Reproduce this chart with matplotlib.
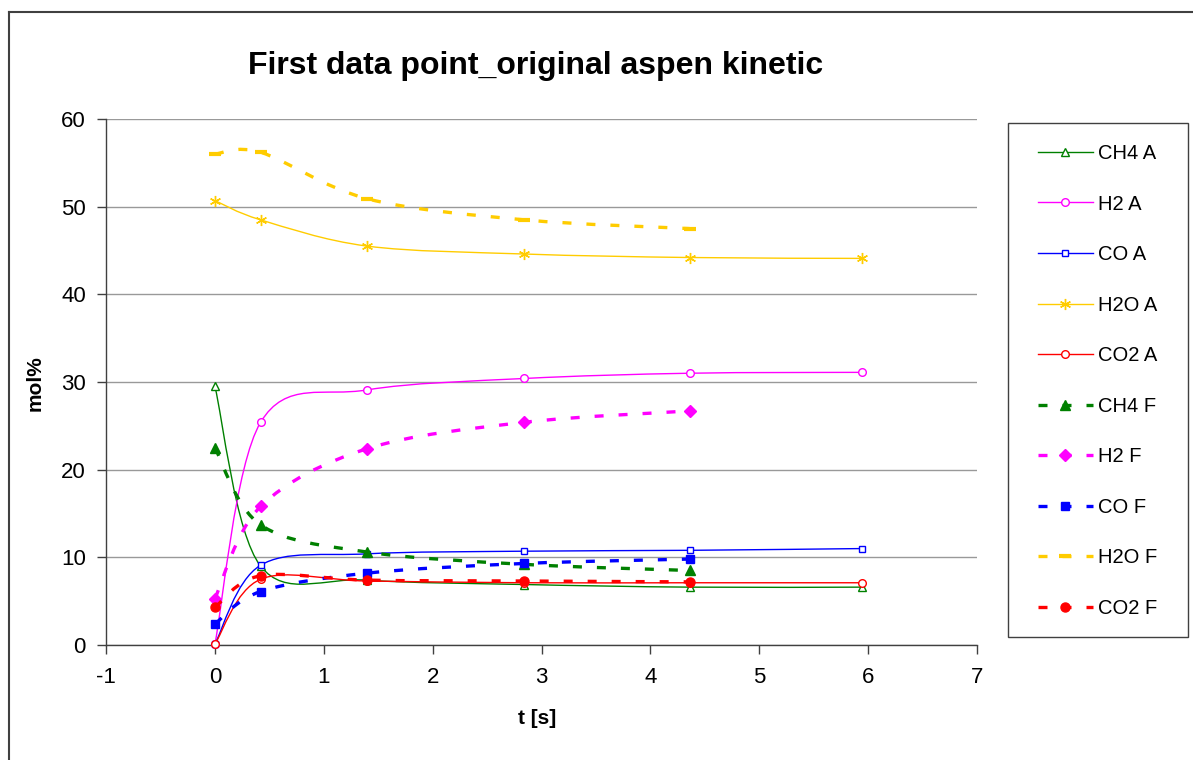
import numpy as np
import matplotlib
matplotlib.use("Agg")
import matplotlib.pyplot as plt
from matplotlib.path import Path
from matplotlib.patches import PathPatch, Rectangle
from matplotlib.lines import Line2D

plt.rcParams['font.family'] = ['Liberation Sans', 'DejaVu Sans']
plt.rcParams['axes.unicode_minus'] = False

# data
t_a = [0, 0.42, 1.4, 2.84, 4.36, 5.94]
t_f = [0, 0.42, 1.4, 2.84, 4.36]

ch4_a = [29.5, 9.0, 7.4, 6.9, 6.6, 6.6]
h2_a = [0.1, 25.4, 29.1, 30.4, 31.0, 31.1]
co_a = [0.1, 9.1, 10.4, 10.7, 10.8, 11.0]
h2o_a = [50.7, 48.5, 45.5, 44.6, 44.2, 44.1]
co2_a = [0.1, 7.5, 7.3, 7.1, 7.1, 7.1]

ch4_f = [22.5, 13.7, 10.6, 9.2, 8.5]
h2_f = [5.3, 15.8, 22.4, 25.4, 26.7]
co_f = [2.4, 6.1, 8.2, 9.3, 9.8]
h2o_f = [56.0, 56.2, 50.9, 48.5, 47.5]
co2_f = [4.3, 7.9, 7.4, 7.3, 7.2]

labels = ['CH4 A', 'H2 A', 'CO A', 'H2O A', 'CO2 A',
          'CH4 F', 'H2 F', 'CO F', 'H2O F', 'CO2 F']
colors = ['#008000', '#FF00FF', '#0000FF', '#FFCC00', '#FF0000'] * 2


def smooth_path(x, y):
    # excel style smoothed line: cubic bezier through the points
    p = np.column_stack([x, y]).astype(float)
    n = len(p)
    verts = [p[0]]
    codes = [Path.MOVETO]
    for i in range(n - 1):
        p0 = p[max(i - 1, 0)]
        p3 = p[min(i + 2, n - 1)]
        c1 = p[i] + (p[i + 1] - p0) / 6
        c2 = p[i + 1] - (p3 - p[i]) / 6
        verts += [c1, c2, p[i + 1]]
        codes += [Path.CURVE4] * 3
    return Path(verts, codes)


dash = (0, (2.7, 4.5))
styles = [
    dict(marker='^', ms=6, mfc='white', mew=1, lw=1, ls='-'),
    dict(marker='o', ms=5.5, mfc='white', mew=1, lw=1, ls='-'),
    dict(marker='s', ms=5, mfc='white', mew=1, lw=1, ls='-'),
    dict(marker=(6, 2, 0), ms=8, mfc='none', mew=1, lw=1, ls='-'),
    dict(marker='o', ms=5.5, mfc='white', mew=1, lw=1, ls='-'),
    dict(marker='^', ms=7, mfc=None, mew=1, lw=2.4, ls=dash),
    dict(marker='D', ms=6, mfc=None, mew=1, lw=2.4, ls=dash),
    dict(marker='s', ms=6, mfc=None, mew=1, lw=2.4, ls=dash),
    dict(marker='_', ms=9, mfc=None, mew=3, lw=2.4, ls=dash),
    dict(marker='o', ms=6.5, mfc=None, mew=1, lw=2.4, ls=dash),
]
series = [(t_a, ch4_a), (t_a, h2_a), (t_a, co_a), (t_a, h2o_a), (t_a, co2_a),
          (t_f, ch4_f), (t_f, h2_f), (t_f, co_f), (t_f, h2o_f), (t_f, co2_f)]

fig = plt.figure(figsize=(11.93, 7.6), dpi=100)
ax = fig.add_axes([106 / 1193, 1 - 645 / 760, 871 / 1193, 526 / 760])

handles = []
for k, ((x, y), st, c, lab) in enumerate(zip(series, styles, colors, labels)):
    z = 3 + k
    patch = PathPatch(smooth_path(x, y), facecolor='none', edgecolor=c,
                      lw=st['lw'], linestyle=st['ls'], zorder=z)
    ax.add_patch(patch)
    mfc = c if st['mfc'] is None else st['mfc']
    ax.plot(x, y, ls='none', marker=st['marker'], ms=st['ms'], mfc=mfc,
            mec=c, mew=st['mew'], zorder=z + 0.5, clip_on=False)
    handles.append(Line2D([], [], color=c, lw=st['lw'], ls=st['ls'],
                          marker=st['marker'], ms=st['ms'], mfc=mfc,
                          mec=c, mew=st['mew']))

ax.set_xlim(-1, 7)
ax.set_ylim(0, 60)
ax.set_xticks(range(-1, 8))
ax.set_yticks(range(0, 61, 10))
ax.yaxis.grid(True, color='#999999', lw=1)
ax.set_axisbelow(True)
for s in ['top', 'right']:
    ax.spines[s].set_visible(False)
for s in ['left', 'bottom']:
    ax.spines[s].set_color('#404040')
    ax.spines[s].set_linewidth(1)
ax.tick_params(axis='both', labelsize=16, color='#404040', length=6.5, width=1)
ax.tick_params(axis='y', pad=8)
ax.tick_params(axis='x', pad=9)

fig.text(536 / 1193, 1 - 66 / 760, 'First data point_original aspen kinetic',
         ha='center', va='center', fontsize=23, fontweight='bold')
fig.text(537 / 1193, 1 - 718 / 760, 't [s]', ha='center', va='center',
         fontsize=15, fontweight='bold')
fig.text(35 / 1193, 1 - 383 / 760, 'mol%', ha='center', va='center',
         rotation=90, fontsize=15, fontweight='bold')

leg = fig.legend(handles, labels, loc='upper left',
                 bbox_to_anchor=(1038 / 1193, 1 - 144 / 760),
                 frameon=False, fontsize=14.5, handlelength=2.73,
                 handletextpad=0.25, labelspacing=1.565, borderpad=0,
                 borderaxespad=0, numpoints=1)

fig.patches.append(Rectangle((1008 / 1193, 1 - 637 / 760), 180 / 1193, 514 / 760,
                             transform=fig.transFigure, fill=False,
                             edgecolor='#404040', lw=1))
fig.lines.append(Line2D([9 / 1193, 9 / 1193], [0, 1 - 12 / 760],
                        transform=fig.transFigure, color='#404040', lw=1.5))
fig.lines.append(Line2D([9 / 1193, 1], [1 - 12 / 760, 1 - 12 / 760],
                        transform=fig.transFigure, color='#404040', lw=1.5))

fig.savefig('out.png', dpi=100)
